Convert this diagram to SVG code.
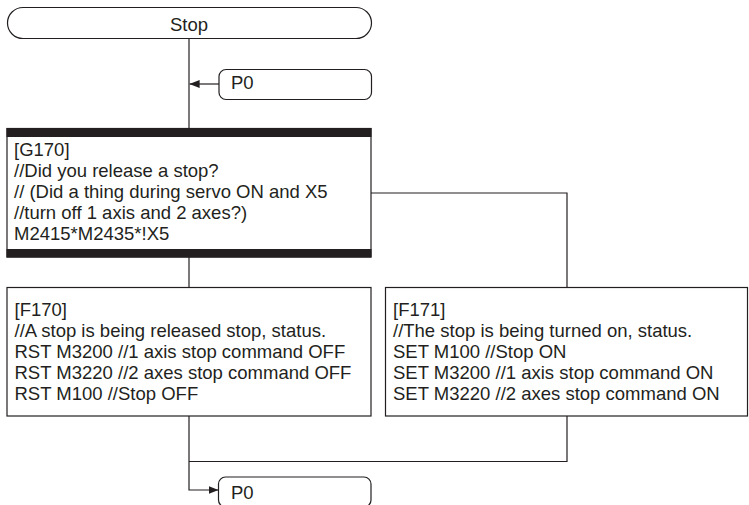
<svg xmlns="http://www.w3.org/2000/svg" width="749" height="505" viewBox="0 0 749 505">
<defs>
<style>
.box{fill:#fff;stroke:#231f20;stroke-width:1.2}
.bar{fill:#231f20}
.t{font-family:"Liberation Sans",Arial,sans-serif;font-size:18.5px;fill:#231f20}
.c{fill:none;stroke:#231f20;stroke-width:1.2}
</style>
<marker id="ah" viewBox="0 0 10 10" refX="10" refY="5" markerWidth="10" markerHeight="10" markerUnits="userSpaceOnUse" orient="auto">
<path d="M0,1 L10,5 L0,9 Z" fill="#231f20"/>
</marker>
</defs>
<rect width="749" height="505" fill="#fff"/>
<g id="connectors">
<path class="c" d="M189,38.5 V128"/>
<path class="c" d="M219,84 H189.6" marker-end="url(#ah)"/>
<path class="c" d="M189,257 V287"/>
<path class="c" d="M371,193 H567 V287"/>
<path class="c" d="M189,416 V490 H218.5" marker-end="url(#ah)"/>
<path class="c" d="M567,416 V461.5 H189"/>
</g>
<g id="stop">
<rect class="box" x="7.5" y="7.5" width="364" height="31" rx="15.5"/>
<text class="t" x="189" y="31" text-anchor="middle">Stop</text>
</g>
<g id="p0-top">
<rect class="box" x="219" y="69.5" width="152.5" height="30" rx="7"/>
<text class="t" x="231" y="89">P0</text>
</g>
<g id="g170">
<rect class="box" x="7" y="128.5" width="364" height="128.5"/>
<rect class="bar" x="6.5" y="128" width="365" height="9"/>
<rect class="bar" x="6.5" y="249" width="365" height="8.5"/>
<text class="t" x="14" y="156">[G170]</text>
<text class="t" x="14" y="177">//Did you release a stop?</text>
<text class="t" x="14" y="197.5">// (Did a thing during servo ON and X5</text>
<text class="t" x="14" y="218.5">//turn off 1 axis and 2 axes?)</text>
<text class="t" x="14" y="239.5">M2415*M2435*!X5</text>
</g>
<g id="f170">
<rect class="box" x="7" y="287.5" width="364" height="128.5"/>
<text class="t" x="14.5" y="315.5">[F170]</text>
<text class="t" x="14.5" y="336.5">//A stop is being released stop, status.</text>
<text class="t" x="14.5" y="357.5">RST M3200 //1 axis stop command OFF</text>
<text class="t" x="14.5" y="378.5">RST M3220 //2 axes stop command OFF</text>
<text class="t" x="14.5" y="399.5">RST M100 //Stop OFF</text>
</g>
<g id="f171">
<rect class="box" x="385.5" y="287.5" width="362" height="128.5"/>
<text class="t" x="393" y="315.5">[F171]</text>
<text class="t" x="393" y="336.5">//The stop is being turned on, status.</text>
<text class="t" x="393" y="357.5">SET M100 //Stop ON</text>
<text class="t" x="393" y="378.5">SET M3200 //1 axis stop command ON</text>
<text class="t" x="393" y="399.5">SET M3220 //2 axes stop command ON</text>
</g>
<g id="p0-bottom">
<rect class="box" x="218.5" y="477" width="152.5" height="30" rx="7"/>
<text class="t" x="231" y="498.5">P0</text>
</g>
</svg>
